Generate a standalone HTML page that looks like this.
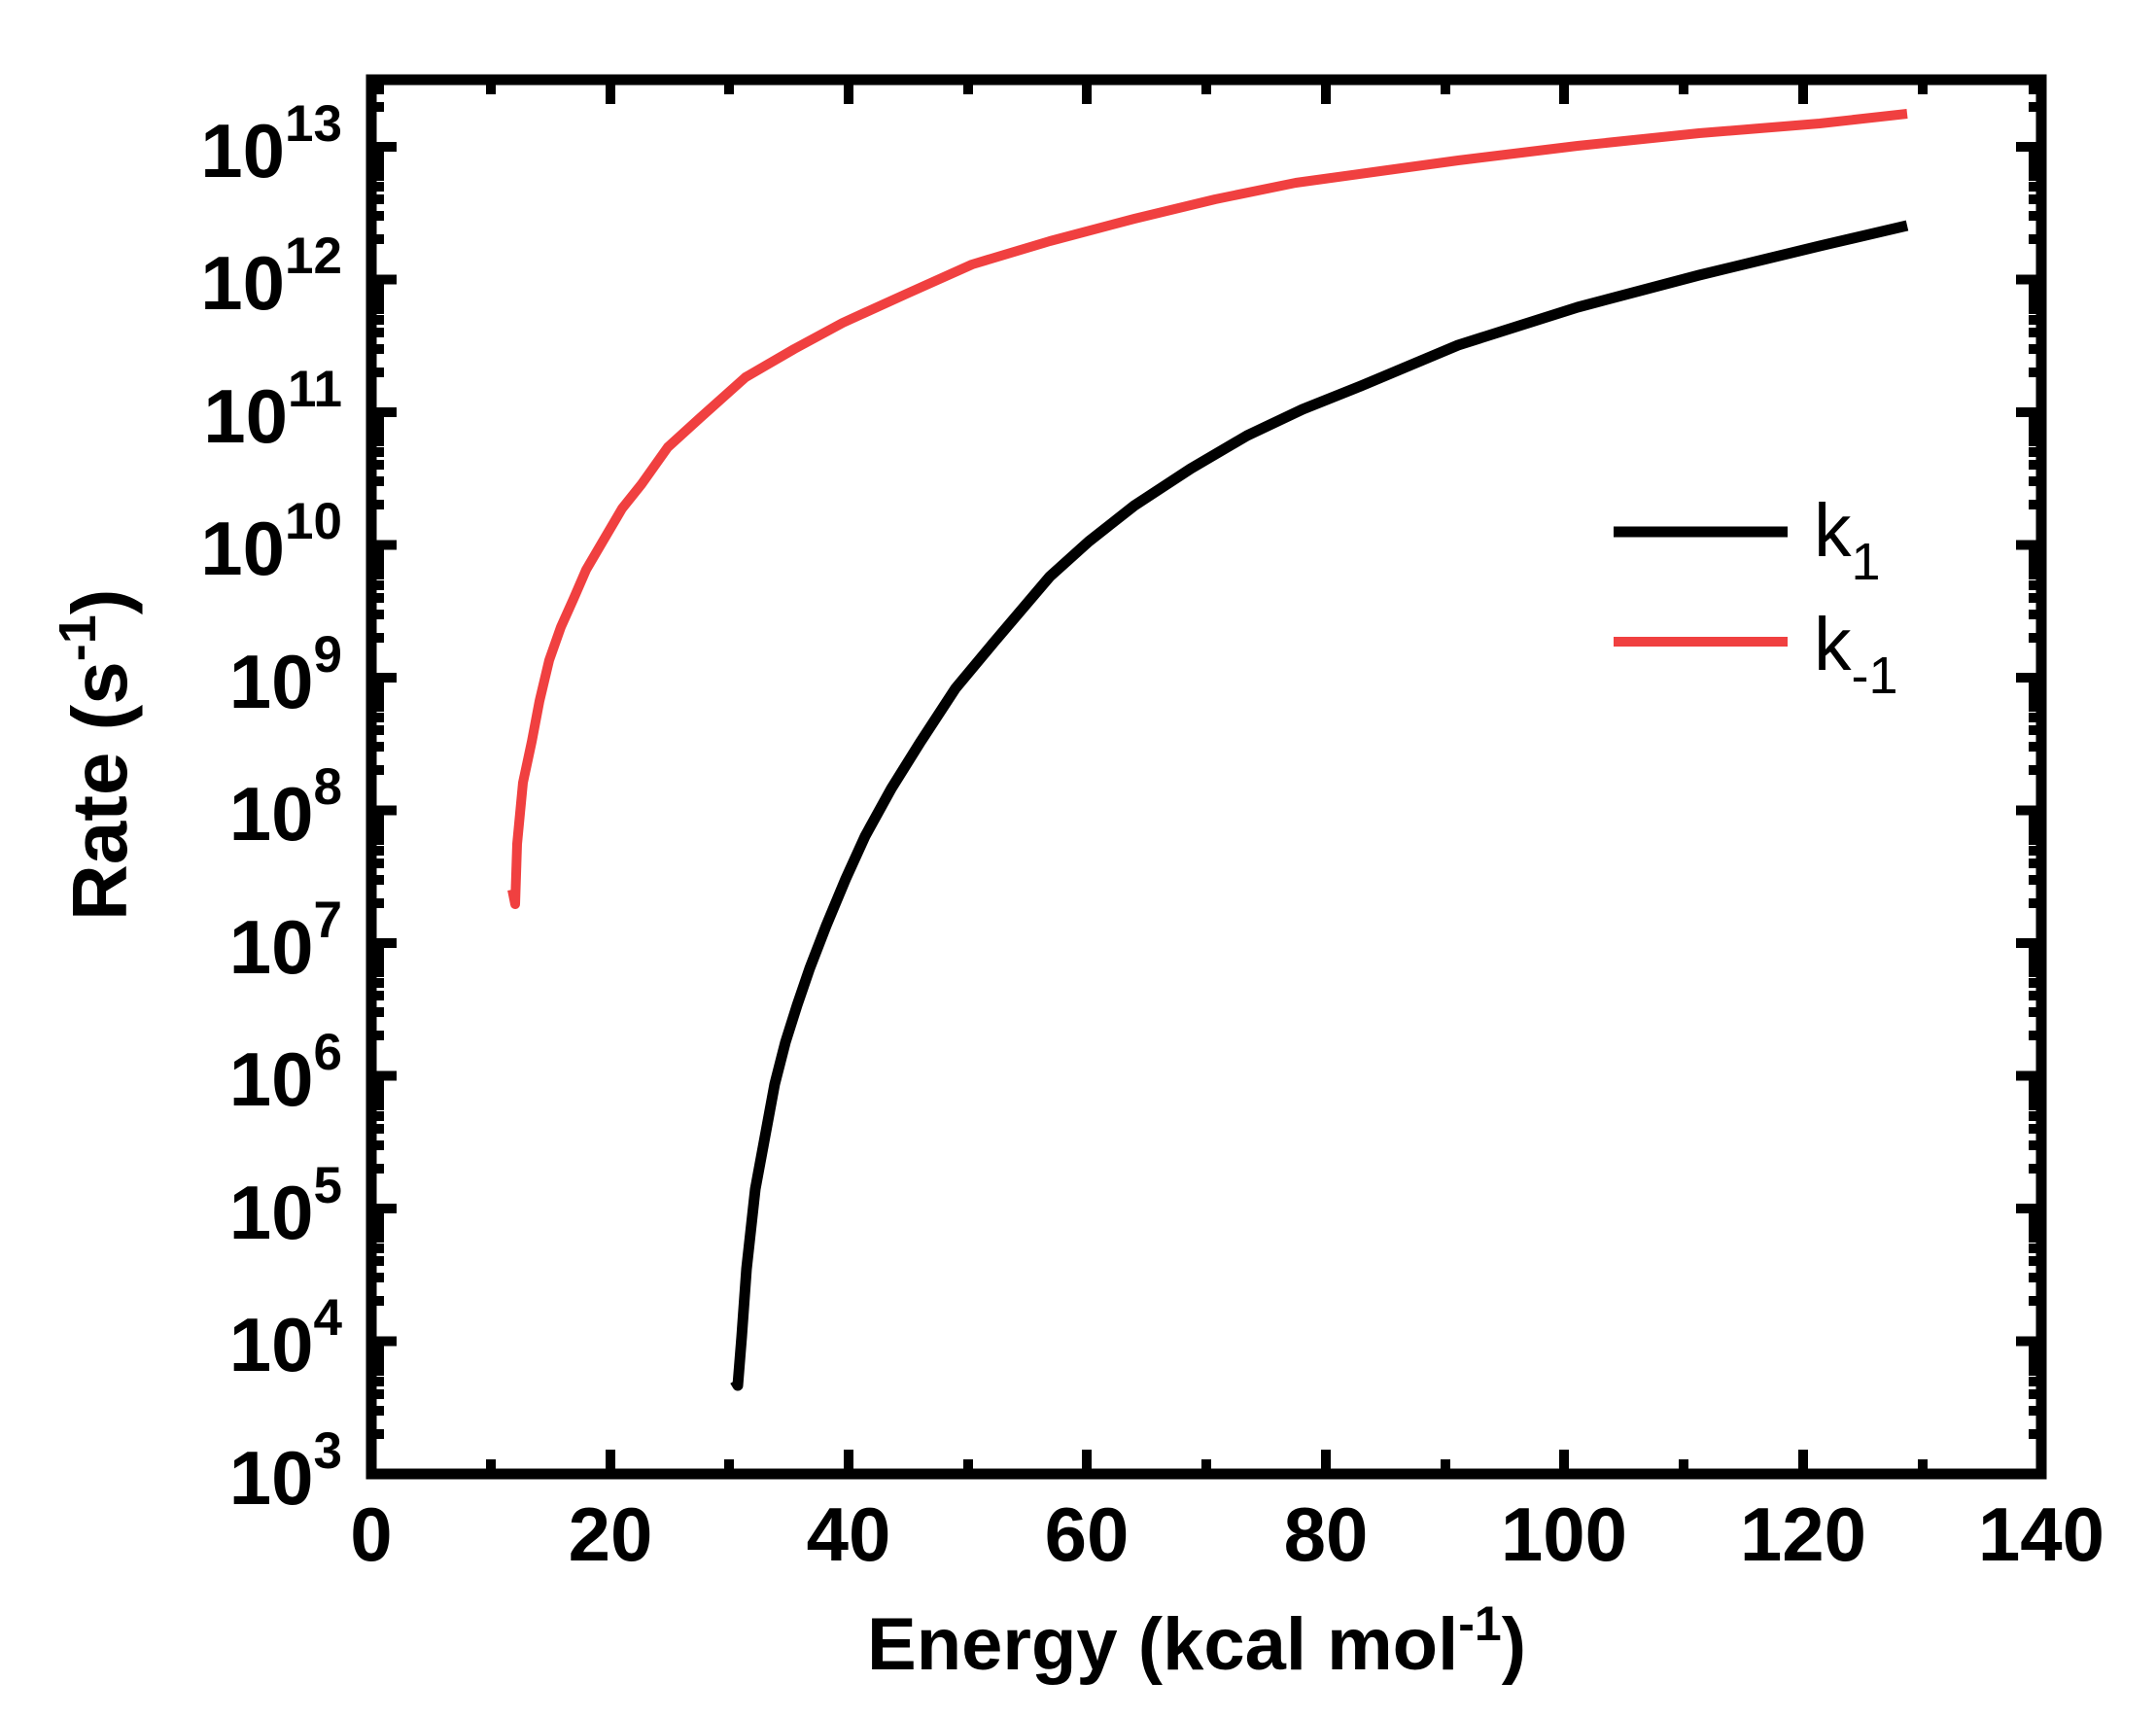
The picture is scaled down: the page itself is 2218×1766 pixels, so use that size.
<!DOCTYPE html>
<html><head><meta charset="utf-8"><style>
html,body{margin:0;padding:0;background:#fff;}
svg{display:block;}
text{font-family:"Liberation Sans",Arial,sans-serif;}
</style></head><body>
<svg width="2218" height="1766" viewBox="0 0 2218 1766" xmlns="http://www.w3.org/2000/svg">
<rect width="2218" height="1766" fill="#fff"/>
<rect x="382" y="82" width="1718" height="1434" fill="none" stroke="#000" stroke-width="11"/>
<g stroke="#000" stroke-width="10" fill="none">
<path d="M628,1516v-25M873,1516v-25M1118,1516v-25M1364,1516v-25M1609,1516v-25M1855,1516v-25
M628,82v25M873,82v25M1118,82v25M1364,82v25M1609,82v25M1855,82v25"/>
<path d="M505,1516v-15M750,1516v-15M996,1516v-15M1241,1516v-15M1487,1516v-15M1732,1516v-15M1978,1516v-15
M505,82v15M750,82v15M996,82v15M1241,82v15M1487,82v15M1732,82v15M1978,82v15"/>
</g>
<g id="ytl" stroke="#000" stroke-width="10" fill="none">
<path d="M382,1379.5h26M382,1243h26M382,1106.5h26M382,970h26M382,833.5h26M382,697h26M382,560.5h26M382,424h26M382,287.5h26M382,151h26"/>
<path d="M382,1475h13M382,1451h13M382,1434h13M382,1421h13M382,1410h13M382,1401h13M382,1393h13M382,1386h13
M382,1338h13M382,1314h13M382,1297h13M382,1284h13M382,1273h13M382,1264h13M382,1256h13M382,1249h13
M382,1202h13M382,1178h13M382,1161h13M382,1148h13M382,1137h13M382,1128h13M382,1120h13M382,1113h13
M382,1065h13M382,1041h13M382,1024h13M382,1011h13M382,1000h13M382,991h13M382,983h13M382,976h13
M382,929h13M382,905h13M382,888h13M382,875h13M382,864h13M382,855h13M382,847h13M382,840h13
M382,792h13M382,768h13M382,751h13M382,738h13M382,727h13M382,718h13M382,710h13M382,703h13
M382,656h13M382,632h13M382,615h13M382,602h13M382,591h13M382,582h13M382,574h13M382,567h13
M382,519h13M382,495h13M382,478h13M382,465h13M382,454h13M382,445h13M382,437h13M382,430h13
M382,383h13M382,359h13M382,342h13M382,329h13M382,318h13M382,309h13M382,301h13M382,294h13
M382,246h13M382,222h13M382,205h13M382,192h13M382,181h13M382,172h13M382,164h13M382,157h13
M382,110h13M382,92h13"/>
</g>
<use href="#ytl" transform="translate(2482,0) scale(-1,1)"/>
<g font-weight="bold" font-size="78" text-anchor="middle" fill="#000">
<text x="382" y="1605">0</text><text x="628" y="1605">20</text><text x="873" y="1605">40</text>
<text x="1118" y="1605">60</text><text x="1364" y="1605">80</text><text x="1609" y="1605">100</text>
<text x="1855" y="1605">120</text><text x="2100" y="1605">140</text>
</g>
<g font-weight="bold" font-size="78" text-anchor="end" fill="#000">
<text x="352" y="182">10<tspan dy="-37" font-size="53">13</tspan></text>
<text x="352" y="318">10<tspan dy="-37" font-size="53">12</tspan></text>
<text x="352" y="455">10<tspan dy="-37" font-size="53">11</tspan></text>
<text x="352" y="591">10<tspan dy="-37" font-size="53">10</tspan></text>
<text x="352" y="728">10<tspan dy="-37" font-size="53">9</tspan></text>
<text x="352" y="864">10<tspan dy="-37" font-size="53">8</tspan></text>
<text x="352" y="1001">10<tspan dy="-37" font-size="53">7</tspan></text>
<text x="352" y="1137">10<tspan dy="-37" font-size="53">6</tspan></text>
<text x="352" y="1274">10<tspan dy="-37" font-size="53">5</tspan></text>
<text x="352" y="1410">10<tspan dy="-37" font-size="53">4</tspan></text>
<text x="352" y="1547">10<tspan dy="-37" font-size="53">3</tspan></text>
</g>
<text x="892" y="1717" font-weight="bold" font-size="76" fill="#000">Energy (kcal mol<tspan dy="-30" font-size="50">-1</tspan><tspan dy="30">)</tspan></text>
<text transform="translate(130,947) rotate(-90)" font-weight="bold" font-size="80" fill="#000">Rate (s<tspan dy="-32" font-size="54">-1</tspan><tspan dy="32">)</tspan></text>
<polyline fill="none" stroke="#f04040" stroke-width="10" stroke-linejoin="round" points="527,915 530,930 532,868 538,805 547,763 555,721 565,679 577,645 590,616 603,586 620,557 640,523 660,498 687,460 720,430 767,388 817,359 867,332 933,302 1000,272 1080,248 1167,225 1250,205 1333,188 1420,176 1500,165 1623,150 1748,137 1872,127 1962,117"/>
<polyline fill="none" stroke="#000" stroke-width="11" stroke-linejoin="round" points="756,1420 759,1425 763,1375 768,1305 777,1223 787,1169 797,1115 808,1072 820,1034 833,996 850,952 870,904 890,860 917,811 947,763 983,708 1023,660 1080,593 1120,557 1167,520 1225,482 1283,448 1340,421 1400,397 1500,355 1623,316 1748,283 1872,253 1962,232"/>
<line x1="1660" y1="547" x2="1839" y2="547" stroke="#000" stroke-width="11"/>
<line x1="1660" y1="660" x2="1839" y2="660" stroke="#f04040" stroke-width="10"/>
<text x="1866" y="572" font-size="77" fill="#000">k<tspan dy="24" font-size="54">1</tspan></text>
<text x="1866" y="689" font-size="77" fill="#000">k<tspan dy="24" font-size="54">-1</tspan></text>
</svg>
</body></html>
